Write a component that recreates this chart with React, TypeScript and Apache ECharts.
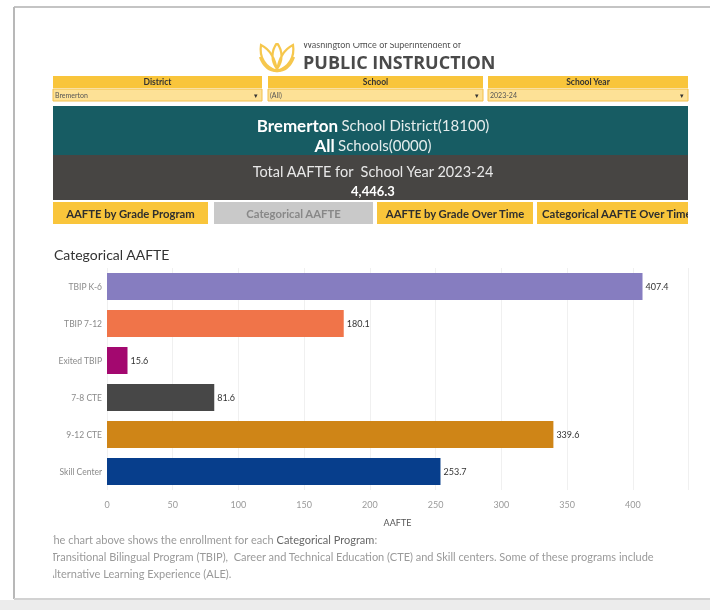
import React, { useEffect, useRef } from "react";
import * as echarts from "echarts";

const categories = ["TBIP K-6", "TBIP 7-12", "Exited TBIP", "7-8 CTE", "9-12 CTE", "Skill Center"];
const values = [407.4, 180.1, 15.6, 81.6, 339.6, 253.7];
const barColors = ["#867DC0", "#F07449", "#A3086F", "#474747", "#CF8517", "#073E8C"];
const filterHeaders = ["District", "School", "School Year"];
const filterValues = ["Bremerton", "(All)", "2023-24"];
const tabLabels = ["AAFTE by Grade Program", "Categorical AAFTE", "AAFTE by Grade Over Time", "Categorical AAFTE Over Time"];

const FONT = "Lato, 'Open Sans', sans-serif";

const logoPath =
  "M20 30 C8 26 2 16 4 4 C12 8 18 16 20 30 Z M20 30 C32 26 38 16 36 4 C28 8 22 16 20 30 Z M20 28 C14 20 14 10 20 2 C26 10 26 20 20 28 Z M20 30 C12 30 6 24 3 16 M20 30 C28 30 34 24 37 16";

let registered = false;

export default function App() {
  const ref = useRef<HTMLDivElement>(null);
  useEffect(() => {
    if (!ref.current) return;
    if (!registered) {
      echarts.graphic.registerShape("logo", (echarts.graphic as any).extendPath(logoPath, {}));
      registered = true;
    }
    const chart = echarts.init(ref.current, null, { renderer: "svg" });

    const filterX = [53, 268, 488];
    const filterW = [209, 215, 200];
    const tabX = [53, 214, 377, 537];
    const tabW = [155, 159, 156, 151];

    const graphics: any[] = [];
    graphics.push({ type: "rect", shape: { x: 0, y: 0, width: 710, height: 610 }, style: { fill: "#ffffff" }, z: -10 });
    graphics.push({ type: "rect", shape: { x: 0, y: 600, width: 710, height: 10 }, style: { fill: "#ececec" }, z: -9 });
    graphics.push({ type: "line", shape: { x1: 14, y1: 7, x2: 710, y2: 7 }, style: { stroke: "#c4c4c4", lineWidth: 2 }, z: -8 });
    graphics.push({ type: "line", shape: { x1: 14, y1: 7, x2: 14, y2: 599 }, style: { stroke: "#b8b8b8", lineWidth: 2 }, z: -8 });
    graphics.push({ type: "line", shape: { x1: 14, y1: 599, x2: 710, y2: 599 }, style: { stroke: "#d2d2d2", lineWidth: 2 }, z: -8 });

    graphics.push({
      type: "logo", x: 257, y: 41, scaleX: 1.0, scaleY: 1.0,
      style: { fill: "none", stroke: "#F6C74D", lineWidth: 2.2 },
    });
    graphics.push({
      type: "text", x: 303, y: 44,
      style: { text: "Washington Office of Superintendent of", font: `9px ${FONT}`, fill: "#555", textVerticalAlign: "middle" },
    });
    graphics.push({ type: "rect", shape: { x: 250, y: 30, width: 260, height: 13 }, style: { fill: "#ffffff" }, z: 5 });
    graphics.push({
      type: "text", x: 303, y: 62,
      style: { text: "PUBLIC INSTRUCTION", font: `bold 18px 'Open Sans', sans-serif`, fill: "#4a4a4a", textVerticalAlign: "middle" },
    });

    filterHeaders.forEach((h, i) => {
      graphics.push({ type: "rect", shape: { x: filterX[i], y: 76, width: filterW[i], height: 12 }, style: { fill: "#F9C53B" } });
      graphics.push({ type: "rect", shape: { x: filterX[i], y: 89, width: filterW[i], height: 12 }, style: { fill: "#FDE196", stroke: "#F2C04A", lineWidth: 1 } });
      graphics.push({
        type: "text", x: filterX[i] + filterW[i] / 2, y: 82,
        style: { text: h, font: `bold 8.5px ${FONT}`, fill: "#333", textAlign: "center", textVerticalAlign: "middle" },
      });
      graphics.push({
        type: "text", x: filterX[i] + 2, y: 95,
        style: { text: filterValues[i], font: `7px ${FONT}`, fill: "#555", textVerticalAlign: "middle" },
      });
      graphics.push({
        type: "text", x: filterX[i] + filterW[i] - 6, y: 95,
        style: { text: "▾", font: `7px ${FONT}`, fill: "#333", textAlign: "center", textVerticalAlign: "middle" },
      });
    });

    graphics.push({ type: "rect", shape: { x: 53, y: 106, width: 635, height: 49 }, style: { fill: "#175C63" } });
    graphics.push({
      type: "text", x: 373, y: 125,
      style: {
        text: "{b|Bremerton} {n|School District(18100)}",
        textAlign: "center", textVerticalAlign: "middle",
        rich: {
          b: { font: `bold 17px ${FONT}`, fill: "#ffffff" },
          n: { font: `15px ${FONT}`, fill: "#e4ecec" },
        },
      },
    });
    graphics.push({
      type: "text", x: 373, y: 145,
      style: {
        text: "{b|All} {n|Schools(0000)}",
        textAlign: "center", textVerticalAlign: "middle",
        rich: {
          b: { font: `bold 17px ${FONT}`, fill: "#ffffff" },
          n: { font: `15px ${FONT}`, fill: "#e4ecec" },
        },
      },
    });
    graphics.push({ type: "rect", shape: { x: 53, y: 155, width: 635, height: 45 }, style: { fill: "#474543" } });
    graphics.push({
      type: "text", x: 373, y: 171,
      style: { text: "Total AAFTE for  School Year 2023-24", font: `14.5px ${FONT}`, fill: "#e8e8e8", textAlign: "center", textVerticalAlign: "middle" },
    });
    graphics.push({
      type: "text", x: 373, y: 191,
      style: { text: "4,446.3", font: `bold 13px ${FONT}`, fill: "#ffffff", textAlign: "center", textVerticalAlign: "middle" },
    });

    tabLabels.forEach((t, i) => {
      const active = i === 1;
      graphics.push({
        type: "rect", shape: { x: tabX[i], y: 202, width: tabW[i], height: 22 },
        style: { fill: active ? "#C9C9C9" : "#F9C53B" },
      });
      graphics.push({
        type: "text", x: i === 3 ? tabX[i] + 5 : tabX[i] + tabW[i] / 2, y: 213,
        style: {
          text: t, font: `bold 11.3px ${FONT}`, fill: active ? "#888888" : "#2e2e2e",
          textAlign: i === 3 ? "left" : "center", textVerticalAlign: "middle",
        },
      });
    });
    graphics.push({ type: "rect", shape: { x: 688, y: 195, width: 22, height: 32 }, style: { fill: "#ffffff" }, z: 5 });

    graphics.push({
      type: "text", x: 54, y: 254,
      style: { text: "Categorical AAFTE", font: `14px ${FONT}`, fill: "#333", textVerticalAlign: "middle" },
    });

    graphics.push({
      type: "text", x: 47, y: 539,
      style: {
        text: "{n|The chart above shows the enrollment for each }{b|Categorical Program}{n|:}",
        textVerticalAlign: "middle",
        rich: {
          n: { font: `11px ${FONT}`, fill: "#9a9a9a" },
          b: { font: `11px ${FONT}`, fill: "#666666" },
        },
      },
    });
    graphics.push({
      type: "text", x: 51, y: 556,
      style: {
        text: "Transitional Bilingual Program (TBIP),  Career and Technical Education (CTE) and Skill centers. Some of these programs include",
        font: `11px ${FONT}`, fill: "#9a9a9a", textVerticalAlign: "middle",
      },
    });
    graphics.push({
      type: "text", x: 47, y: 573,
      style: { text: "Alternative Learning Experience (ALE).", font: `11px ${FONT}`, fill: "#9a9a9a", textVerticalAlign: "middle" },
    });
    graphics.push({ type: "rect", shape: { x: 16, y: 530, width: 37, height: 55 }, style: { fill: "#ffffff" }, z: 5 });

    chart.setOption({
      animation: false,
      textStyle: { fontFamily: FONT },
      graphic: graphics,
      grid: { left: 107, right: 22, top: 268, bottom: 120, containLabel: false },
      xAxis: {
        type: "value",
        min: 0,
        max: 442,
        interval: 50,
        axisLine: { show: false },
        axisTick: { show: false },
        splitLine: { show: true, lineStyle: { color: "#f0f0f0", width: 1 } },
        axisLabel: { color: "#9a9a9a", fontSize: 9, margin: 10, showMaxLabel: false, fontFamily: FONT },
        name: "AAFTE",
        nameLocation: "middle",
        nameGap: 28,
        nameTextStyle: { color: "#555", fontSize: 9, fontFamily: FONT },
      },
      yAxis: {
        type: "category",
        data: categories,
        inverse: true,
        axisLine: { show: false },
        axisTick: { show: false },
        axisLabel: { color: "#8a8a8a", fontSize: 8.5, margin: 5, fontFamily: FONT },
      },
      series: [
        {
          type: "bar",
          data: values.map((v, i) => ({ value: v, itemStyle: { color: barColors[i] } })),
          barWidth: 27,
          label: {
            show: true,
            position: "right",
            distance: 3,
            color: "#333",
            fontSize: 9,
            fontFamily: FONT,
            formatter: (p: any) => p.value.toFixed(1),
          },
        },
      ],
    });
    return () => chart.dispose();
  }, []);
  return <div ref={ref} style={{ position: "fixed", left: 0, top: 0, width: 710, height: 610 }} />;
}
